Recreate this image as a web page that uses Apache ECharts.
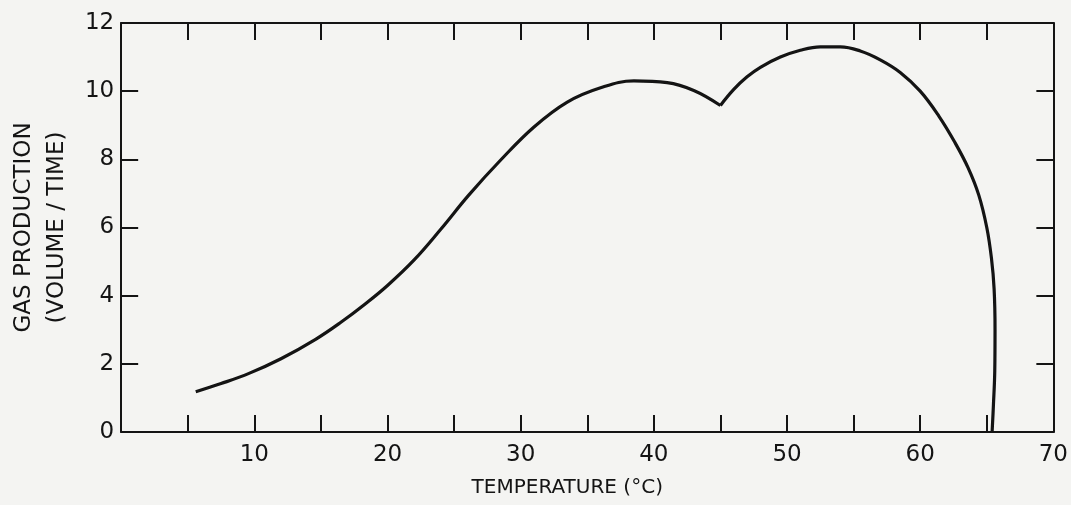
<!DOCTYPE html>
<html>
<head>
<meta charset="utf-8">
<script src="https://cdn.jsdelivr.net/npm/echarts@6/dist/echarts.min.js"></script>
<style>
  html, body { margin: 0; padding: 0; background: #f4f4f2; }
  #chart { width: 1071px; height: 505px; }
</style>
</head>
<body>
<div id="chart"></div>
<script>
// rising branch, up to the dip at 45 C
var tempRise = [5.6, 7.5, 9.6, 12, 14.6, 16.5, 18.3, 20, 22, 24, 26.1, 28.5, 31, 33.5, 36, 38.5, 41, 43, 45];
var gasRise = [1.18, 1.42, 1.72, 2.15, 2.72, 3.22, 3.75, 4.3, 5.05, 5.95, 6.95, 7.98, 8.95, 9.68, 10.1, 10.3, 10.25, 10.02, 9.58];
// second (thermophilic) branch
var tempHot = [45, 46, 47, 48, 49.5, 51, 52.5, 54, 55.5, 57, 58.5, 60, 61.4, 62.6, 63.6, 64.4, 65, 65.35, 65.55, 65.62, 65.6, 65.5, 65.4];
var gasHot = [9.58, 10.05, 10.42, 10.7, 11.0, 11.2, 11.3, 11.3, 11.18, 10.92, 10.55, 10.0, 9.27, 8.5, 7.75, 6.95, 6.0, 5.1, 4.2, 3.0, 1.8, 0.8, 0];

var xTicks = { min: 0, max: 70, step: 5 };
var yTicks = { min: 0, max: 12, step: 2 };

var ink = '#141414';
var font = 'DejaVu Sans';

function pairs(xs, ys) {
    return xs.map(function (x, i) { return [x, ys[i]]; });
}

function frameAxis(pos, range, showLabels) {
    return {
        type: 'value',
        position: pos,
        min: range.min,
        max: range.max,
        interval: range.step,
        splitLine: { show: false },
        axisLine: { show: true, onZero: false, lineStyle: { color: ink, width: 2 } },
        axisTick: { show: true, inside: true, length: 17, lineStyle: { color: ink, width: 2 } },
        axisLabel: { show: showLabels, color: ink, fontFamily: font, fontSize: 23 }
    };
}

var bottomX = frameAxis('bottom', xTicks, true);
bottomX.axisLabel.margin = 12;
bottomX.axisLabel.formatter = function (v) { return (v > 0 && v % 10 === 0) ? String(v) : ''; };
bottomX.name = 'TEMPERATURE (\u00B0C)';
bottomX.nameLocation = 'middle';
bottomX.nameGap = 46;
bottomX.nameTextStyle = { color: ink, fontFamily: font, fontSize: 20, padding: [0, 40, 0, 0] };

var leftY = frameAxis('left', yTicks, true);
leftY.axisLabel.margin = 7;
leftY.name = 'GAS PRODUCTION\n(VOLUME / TIME)';
leftY.nameLocation = 'middle';
leftY.nameGap = 42;
leftY.nameTextStyle = { color: ink, fontFamily: font, fontSize: 23, lineHeight: 33 };

var lineStyle = { color: ink, width: 3.2 };

var chart = echarts.init(document.getElementById('chart'));
chart.setOption({
    backgroundColor: '#f4f4f2',
    animation: false,
    grid: { left: 118, right: 16, top: 23, bottom: 73 },
    xAxis: [bottomX, frameAxis('top', xTicks, false)],
    yAxis: [leftY, frameAxis('right', yTicks, false)],
    series: [{
        type: 'line',
        data: pairs(tempRise, gasRise),
        smooth: 0.4,
        showSymbol: false,
        lineStyle: lineStyle
    }, {
        type: 'line',
        data: pairs(tempHot, gasHot),
        smooth: 0.4,
        showSymbol: false,
        lineStyle: lineStyle
    }]
});
</script>
</body>
</html>
